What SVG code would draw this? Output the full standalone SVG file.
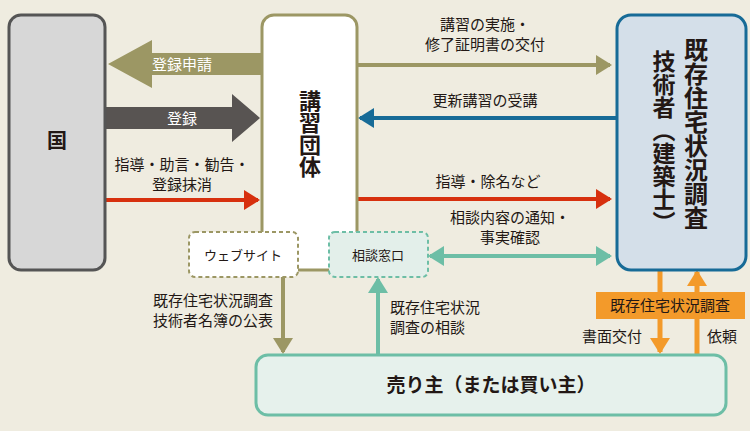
<svg xmlns="http://www.w3.org/2000/svg" width="750" height="431" viewBox="0 0 750 431">
<defs>
<style>
text{font-family:"Noto Sans CJK JP","Noto Sans",sans-serif;fill:#231815}
.s{font-size:15px}
.b{font-weight:bold}
</style>
<marker id="ar" markerWidth="16" markerHeight="20" refX="14" refY="10" orient="auto-start-reverse" markerUnits="userSpaceOnUse"><path d="M0,0L16,10L0,20Z" fill="context-stroke"/></marker>
</defs>
<rect width="750" height="431" fill="#efece0"/>
<g id="connectors">
<path d="M262,53V75H152V88L108,64L152,40V53Z" fill="#9c9764"/>
<text x="182" y="70" class="s" style="fill:#fff" text-anchor="middle">登録申請</text>
<path d="M105,107V129H232V142L260,118L232,94V107Z" fill="#585452"/>
<text x="182" y="124" class="s" style="fill:#fff" text-anchor="middle">登録</text>
<line x1="105" y1="200" x2="258" y2="200" stroke="#d7300e" stroke-width="4" marker-end="url(#ar)"/>
<text x="182" y="170" class="s" text-anchor="middle">指導・助言・勧告・</text>
<text x="182" y="190" class="s" text-anchor="middle">登録抹消</text>
<line x1="357" y1="65" x2="610" y2="65" stroke="#9c9764" stroke-width="4" marker-end="url(#ar)"/>
<text x="485" y="30" class="s" text-anchor="middle">講習の実施・</text>
<text x="485" y="50" class="s" text-anchor="middle">修了証明書の交付</text>
<line x1="617" y1="118" x2="360" y2="118" stroke="#176b97" stroke-width="4" marker-end="url(#ar)"/>
<text x="485" y="106" class="s" text-anchor="middle">更新講習の受講</text>
<line x1="357" y1="199" x2="610" y2="199" stroke="#d7300e" stroke-width="4" marker-end="url(#ar)"/>
<text x="488" y="187" class="s" text-anchor="middle">指導・除名など</text>
<line x1="430" y1="256" x2="610" y2="256" stroke="#6dbea6" stroke-width="4" marker-start="url(#ar)" marker-end="url(#ar)"/>
<text x="510" y="223" class="s" text-anchor="middle">相談内容の通知・</text>
<text x="510" y="243" class="s" text-anchor="middle">事実確認</text>
<line x1="283" y1="277" x2="283" y2="352" stroke="#9c9764" stroke-width="4" marker-end="url(#ar)"/>
<text x="213" y="306" class="s" text-anchor="middle">既存住宅状況調査</text>
<text x="213" y="326" class="s" text-anchor="middle">技術者名簿の公表</text>
<line x1="378" y1="355" x2="378" y2="279" stroke="#6dbea6" stroke-width="4" marker-end="url(#ar)"/>
<text x="390" y="313" class="s">既存住宅状況</text>
<text x="390" y="333" class="s">調査の相談</text>
<line x1="660" y1="270" x2="660" y2="352" stroke="#f39a2a" stroke-width="5" marker-end="url(#ar)"/>
<line x1="697" y1="355" x2="697" y2="272" stroke="#f39a2a" stroke-width="5" marker-end="url(#ar)"/>
<rect x="596" y="292" width="149" height="27" fill="#f39a2a"/>
<text x="670" y="311" font-size="15" text-anchor="middle">既存住宅状況調査</text>
<text x="612" y="342" class="s" text-anchor="middle">書面交付</text>
<text x="722" y="342" class="s" text-anchor="middle">依頼</text>
</g>
<g id="kuni"><rect x="9" y="15" width="96" height="255" rx="12" fill="#d7d7d7" stroke="#555" stroke-width="3"/>
<text x="57" y="148" font-size="20" class="b" text-anchor="middle">国</text></g>
<g id="dantai"><rect x="262" y="15" width="95" height="255" rx="12" fill="#fff" stroke="#9c9764" stroke-width="3"/>
<text x="310" y="90" font-size="22" class="b" writing-mode="vertical-rl">講習団体</text></g>
<g id="gishi"><rect x="617" y="15" width="129" height="255" rx="14" fill="#d4dfe9" stroke="#176b97" stroke-width="3"/>
<text x="696" y="38" font-size="24" class="b" writing-mode="vertical-rl">既存住宅状況調査</text>
<text x="664" y="50" font-size="23" class="b" writing-mode="vertical-rl">技術者（建築士）</text></g>
<g id="web"><rect x="189" y="232" width="109" height="45" rx="6" fill="#fff" stroke="#9c9764" stroke-width="2" stroke-dasharray="4,3"/>
<text x="243" y="260" font-size="13" text-anchor="middle">ウェブサイト</text></g>
<g id="madoguchi"><rect x="329" y="232" width="99" height="45" rx="6" fill="#e3efea" stroke="#6dbea6" stroke-width="2" stroke-dasharray="4,3"/>
<text x="378" y="260" font-size="13" text-anchor="middle">相談窓口</text></g>
<g id="urinushi"><rect x="256" y="355" width="470" height="60" rx="12" fill="#e6f1ec" stroke="#6dbea6" stroke-width="3"/>
<text x="491" y="392" font-size="19" class="b" text-anchor="middle">売り主（または買い主）</text></g>
</svg>
